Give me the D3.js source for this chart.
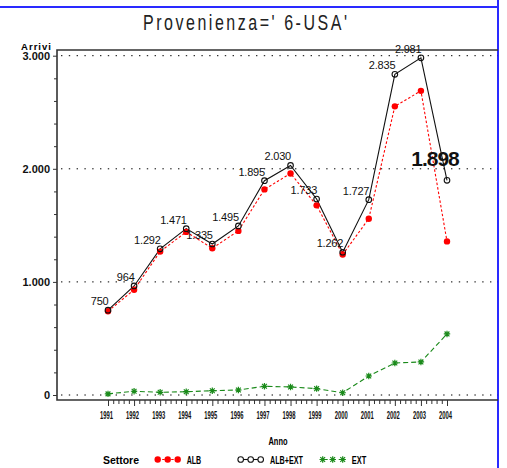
<!DOCTYPE html>
<meta charset="utf-8">
<style>
  body{ margin:0; background:#fff; }
  svg text{ font-family:"Liberation Sans Narrow","Liberation Sans",Arial,sans-serif; }
  .axis path, .axis line{ stroke:#333; }
  .grid line{ stroke:#000; stroke-dasharray:1.4,6.4; }
</style>
<svg width="507" height="468"></svg>
<script src="https://cdnjs.cloudflare.com/ajax/libs/d3/7.8.5/d3.min.js"></script>
<script>

var years   = [1991,1992,1993,1994,1995,1996,1997,1998,1999,2000,2001,2002,2003,2004];
var albExt  = [750,964,1292,1471,1335,1495,1895,2030,1733,1262,1727,2835,2981,1898];
var alb     = [740,931,1268,1442,1297,1451,1818,1959,1677,1242,1559,2552,2689,1358];
var ext     = [10,33,24,29,38,44,77,71,56,20,168,283,292,540];
var yTicks  = [0,1000,2000,3000];
var legendNames = ["ALB","ALB+EXT","EXT"];

var svg = d3.select("svg");

var it = d3.formatLocale({decimal:",", thousands:".", grouping:[3], currency:["","€"]});
var fmt = it.format(",d");

var x = d3.scaleLinear().domain([1991,2004]).range([108,447]);
var y = d3.scaleLinear().domain([0,3000]).range([395,55.7]);

var fLeft = 57, fRight = 498, fTop = 50, fBottom = 400;

// blue page borders
svg.append("line").attr("x1",0).attr("x2",fRight).attr("y1",7).attr("y2",7)
  .attr("stroke","#2a2aff").attr("stroke-width",2);
svg.append("line").attr("x1",fRight).attr("x2",fRight).attr("y1",0).attr("y2",468)
  .attr("stroke","#2a2aff").attr("stroke-width",2);

// title (tall, thin, widely spaced)
svg.append("text").attr("transform","translate(143,30) scale(1,1.4)")
  .attr("textLength",204).attr("lengthAdjust","spacing")
  .style("font-size","16px").attr("fill","#222")
  .text("Provenienza=' 6-USA'");

// grid
svg.append("g").attr("class","grid").selectAll("line")
  .data(yTicks).enter().append("line")
  .attr("x1",fLeft+4).attr("x2",fRight)
  .attr("y1",d=>y(d)).attr("y2",d=>y(d));

// frame
svg.append("path")
  .attr("d","M"+fRight+","+fTop+"H"+fLeft+"V"+fBottom+"H"+fRight)
  .attr("fill","none").attr("stroke","#333").attr("stroke-width",1.6);

// y axis
var yMinor = d3.range(0,3001,200).filter(d=>d%1000);
svg.append("g").attr("class","axis").attr("transform","translate("+fLeft+",0)")
  .call(d3.axisLeft(y).tickValues(yMinor).tickSize(3).tickFormat(""))
  .call(g=>g.select(".domain").remove());
svg.append("g").attr("class","axis").attr("transform","translate("+fLeft+",0)")
  .call(d3.axisLeft(y).tickValues(yTicks).tickSize(4).tickPadding(3).tickFormat(fmt))
  .call(g=>g.select(".domain").remove())
  .call(g=>g.selectAll("text").style("font-size","11px").style("font-weight","bold")
    .attr("fill","#111").attr("dy","0.36em"));
svg.append("text").attr("x",51).attr("y",49.5).attr("text-anchor","end")
  .attr("textLength",30).attr("lengthAdjust","spacing")
  .style("font-size","9.5px").style("font-weight","bold").text("Arrivi");

// x axis
var xMinor = d3.range(0,66).map(i=>1991+i*0.2).filter((d,i)=>i%5);
svg.append("g").attr("class","axis").attr("transform","translate(0,"+fBottom+")")
  .call(d3.axisBottom(x).tickValues(xMinor).tickSize(4).tickFormat(""))
  .call(g=>g.select(".domain").remove());
svg.append("g").attr("class","axis").attr("transform","translate(0,"+fBottom+")")
  .call(d3.axisBottom(x).tickValues(years).tickSize(6).tickPadding(6).tickFormat(d3.format("d")))
  .call(g=>g.select(".domain").remove())
  .call(g=>g.selectAll("text").style("font-size","10.5px").style("font-weight","bold")
    .attr("fill","#111").attr("dx","-2px")
    .attr("textLength",13).attr("lengthAdjust","spacingAndGlyphs"));

svg.append("text").attr("x",278).attr("y",444.5).attr("text-anchor","middle")
  .attr("textLength",19).attr("lengthAdjust","spacingAndGlyphs")
  .style("font-size","10.5px").style("font-weight","bold").text("Anno");

// series
var line = d3.line().x((d,i)=>x(years[i])).y(d=>y(d));

svg.append("path").datum(ext).attr("d",line).attr("fill","none")
  .attr("stroke","#1a8a1a").attr("stroke-width",1.1).attr("stroke-dasharray","5,3");
svg.append("path").datum(alb).attr("d",line).attr("fill","none")
  .attr("stroke","#ff0000").attr("stroke-width",1.1).attr("stroke-dasharray","2.5,2");
svg.append("path").datum(albExt).attr("d",line).attr("fill","none")
  .attr("stroke","#111").attr("stroke-width",1.1);

function star(g, cx, cy){
  var s = 3.2;
  g.append("path")
    .attr("d","M"+(cx-s)+","+cy+"H"+(cx+s)+"M"+cx+","+(cy-s)+"V"+(cy+s)+
      "M"+(cx-s*0.75)+","+(cy-s*0.75)+"L"+(cx+s*0.75)+","+(cy+s*0.75)+
      "M"+(cx-s*0.75)+","+(cy+s*0.75)+"L"+(cx+s*0.75)+","+(cy-s*0.75))
    .attr("stroke","#1a8a1a").attr("stroke-width",1.2);
}
var gExt = svg.append("g");
ext.forEach((d,i)=>star(gExt, x(years[i]), y(d)));

svg.append("g").selectAll("circle").data(alb).enter().append("circle")
  .attr("cx",(d,i)=>x(years[i])).attr("cy",d=>y(d)).attr("r",3.2)
  .attr("fill","#ff0000");

svg.append("g").selectAll("circle").data(albExt).enter().append("circle")
  .attr("cx",(d,i)=>x(years[i])).attr("cy",d=>y(d)).attr("r",2.8)
  .attr("fill","none").attr("stroke","#111").attr("stroke-width",1.1);

// value labels
var last = albExt.length-1;
svg.append("g").selectAll("text").data(albExt).enter().append("text")
  .attr("x",(d,i)=>i==last ? x(years[i])-12 : x(years[i])+0.5)
  .attr("y",(d,i)=>i==last ? y(d)-14 : y(d)-5)
  .attr("text-anchor",(d,i)=>i==last ? "middle" : "end")
  .style("font-size",(d,i)=>i==last ? "21px" : "11px")
  .style("font-weight",(d,i)=>i==last ? "bold" : "normal")
  .style("letter-spacing",(d,i)=>i==last ? "-1px" : "-0.2px")
  .attr("fill","#111")
  .text(d=>fmt(d));

// legend
var ly = 459.5;
svg.append("text").attr("x",103).attr("y",ly+4)
  .attr("textLength",36).attr("lengthAdjust","spacing")
  .style("font-size","10.5px").style("font-weight","bold").text("Settore");

var lg = svg.append("g");
var lx = [157.7, 240.7, 322.7];
// ALB
lg.append("line").attr("x1",lx[0]).attr("x2",lx[0]+20).attr("y1",ly).attr("y2",ly)
  .attr("stroke","#ff0000").attr("stroke-width",1.1).attr("stroke-dasharray","2.5,2");
[0,10,20].forEach(o=>lg.append("circle").attr("cx",lx[0]+o).attr("cy",ly).attr("r",3.2).attr("fill","#ff0000"));
// ALB+EXT
lg.append("line").attr("x1",lx[1]).attr("x2",lx[1]+20).attr("y1",ly).attr("y2",ly)
  .attr("stroke","#111").attr("stroke-width",1.1);
[0,10,20].forEach(o=>lg.append("circle").attr("cx",lx[1]+o).attr("cy",ly).attr("r",2.8)
  .attr("fill","#fff").attr("stroke","#111").attr("stroke-width",1.1));
// EXT
lg.append("line").attr("x1",lx[2]).attr("x2",lx[2]+20).attr("y1",ly).attr("y2",ly)
  .attr("stroke","#1a8a1a").attr("stroke-width",1.1).attr("stroke-dasharray","5,3");
[0,10,20].forEach(o=>star(lg, lx[2]+o, ly));

var lt = [[186.7,14.5],[270,33],[351.7,14.5]];
legendNames.forEach((n,i)=>{
  svg.append("text").attr("x",lt[i][0]).attr("y",ly+4)
    .attr("textLength",lt[i][1]).attr("lengthAdjust","spacingAndGlyphs")
    .style("font-size","10.5px").style("font-weight","bold").text(n);
});

</script>
